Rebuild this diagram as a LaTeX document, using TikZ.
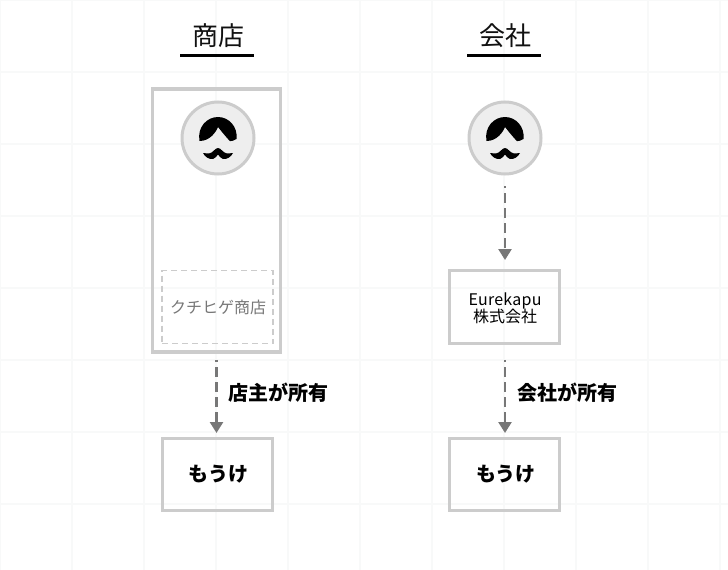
\documentclass[tikz,border=0pt]{standalone}
\usepackage{fontspec}
\setmainfont{Noto Sans CJK JP}
\usetikzlibrary{arrows.meta}
\definecolor{gridc}{HTML}{F8F9F9}
\definecolor{boxc}{HTML}{CCCCCC}
\definecolor{arrowc}{HTML}{777777}
\definecolor{facec}{HTML}{EEEEEE}
\definecolor{inkc}{HTML}{111111}
\tikzset{
  x=1pt,y=-1pt,
  every node/.style={font=\fontsize{16}{17}\selectfont,text=black,align=center,inner sep=0pt},
  gridline/.style={draw=gridc,line width=1.5pt},
  titletext/.style={font=\fontsize{26}{28}\selectfont,text=inkc},
  titlerule/.style={draw=black,line width=3pt},
  boxed/.style={draw=boxc,line width=3.2pt,minimum width=110pt,minimum height=72.5pt},
  outerbox/.style={draw=boxc,line width=3.2pt,minimum width=128pt,minimum height=263pt},
  dashbox/.style={draw=boxc,line width=1.5pt,dash pattern=on 6pt off 4pt,minimum width=111pt,minimum height=73pt,text=arrowc},
  facecircle/.style={circle,draw=boxc,fill=facec,line width=3pt,minimum size=72pt},
  flow/.style={draw=arrowc,line width=2.5pt,dash pattern=on 10pt off 5pt,dash phase=8pt,-{Triangle[length=11pt,width=13pt,fill=arrowc]}},
  boldlabel/.style={font=\fontsize{20}{22}\selectfont\bfseries},
  pics/face/.style={code={
    \fill[black] (-18.5,3) .. controls (-21,-11) and (-11,-21) .. (0,-21) .. controls (11,-21) and (20,-11) .. (18.5,1)
      .. controls (16,2.5) and (14,3.2) .. (12,3.2) .. controls (8,-1) and (4,-6) .. (0,-11)
      .. controls (-2,-6) and (-8,3) .. (-18.5,3) -- cycle;
    \fill[black] (0,10) .. controls (3,10) and (5,15) .. (9,15.5) .. controls (11,15.7) and (13,15) .. (15,15)
      .. controls (13,19) and (9,21.5) .. (5,21) .. controls (3,20.5) and (1,18) .. (0,16.5)
      .. controls (-1,18) and (-3,20.5) .. (-5,21) .. controls (-9,21.5) and (-13,19) .. (-15,15)
      .. controls (-13,15) and (-11,15.7) .. (-9,15.5) .. controls (-5,15) and (-3,10) .. (0,10) -- cycle;
  }},
}
\begin{document}
\begin{tikzpicture}
\useasboundingbox (0,0) rectangle (728,570);
\fill[white] (0,0) rectangle (728,570);
\foreach \gx in {0,72,144,216,288,360,432,504,576,648,720} \draw[gridline] (\gx,0) -- (\gx,570);
\foreach \gy in {0,72,144,216,288,360,432,504} \draw[gridline] (0,\gy) -- (728,\gy);

\node[titletext] (t1) at (218,36) {商店};
\node[titletext] (t2) at (505.5,36) {会社};
\coordinate (t1a) at (180,55.5); \coordinate (t1b) at (254,55.5);
\coordinate (t2a) at (467,55.5); \coordinate (t2b) at (541,55.5);
\draw[titlerule] (t1a) -- (t1b);
\draw[titlerule] (t2a) -- (t2b);

\node[outerbox] (shop) at (216.5,220.5) {};
\node[facecircle] (owner1) at (218,138) {};
\pic at (218,138) {face};
\node[dashbox] (name) at (217.5,307) {\hspace{1pt}クチヒゲ商店};
\node[boxed] (m1) at (217.5,474.5) {\hspace{2pt}\fontsize{20}{22}\selectfont\bfseries もうけ};

\node[facecircle] (owner2) at (505,138) {};
\pic at (505,138) {face};
\node[boxed,text depth=0pt] (corp) at (504.5,307) {\raisebox{-1pt}{\addfontfeature{LetterSpace=1.5}\hspace{1pt}Eurekapu}\\[-1pt]\raisebox{-1pt}{\hspace{1pt}株式会社}};
\node[boxed] (m2) at (504.5,474.5) {\hspace{3pt}\fontsize{20}{22}\selectfont\bfseries もうけ};

\coordinate (s1) at (216.5,360); \coordinate (e1) at (216.5,433);
\draw[flow] (s1) -- (e1);
\coordinate (s2) at (505,186); \coordinate (e2) at (505,260);
\draw[flow] (s2) -- (e2);
\coordinate (s3) at (505,360); \coordinate (e3) at (505,433);
\draw[flow] (s3) -- (e3);

\node[boldlabel,anchor=west] (l1) at (228,393) {店主が所有};
\node[boldlabel,anchor=west] (l2) at (517,393) {会社が所有};
\end{tikzpicture}
\end{document}
